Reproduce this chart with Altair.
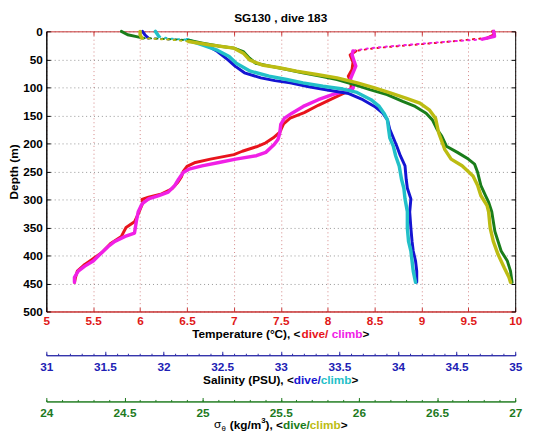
import altair as alt
import pandas as pd

# ---------------- data ----------------
# temperature, dive: surface cluster, sparse surface trail, main profile
T_dive_top_depth = [0, 6, 12]
T_dive_top = [9.76, 9.78, 9.7]
T_dive_trail_depth = [12, 14, 20, 25, 30, 35]
T_dive_trail = [9.7, 9.55, 9.2, 8.85, 8.5, 8.3]
T_dive_depth = [35, 42, 55, 68, 80, 92, 102, 110, 120, 132, 145, 155, 165, 180, 190,
                199, 206, 214, 220, 228, 234, 241, 250, 260, 270, 281, 290, 296, 300, 306, 322, 340, 350,
                366, 378, 395, 408, 416, 428, 440, 448]
T_dive = [8.3, 8.24, 8.27, 8.26, 8.22, 8.25, 8.25, 8.18, 8.05, 7.9, 7.75,
          7.6, 7.53, 7.49, 7.42, 7.34, 7.24, 7.09, 7.0, 6.75, 6.59, 6.5, 6.46, 6.44, 6.4, 6.34, 6.23, 6.09,
          6.02, 6.03, 5.99, 5.94, 5.85, 5.8, 5.69, 5.59, 5.48, 5.41, 5.33, 5.31, 5.3]

# temperature, climb
T_climb_top_depth = [0, 9, 14]
T_climb_top = [9.77, 9.78, 9.65]
T_climb_trail_depth = [14, 15, 18, 22, 27, 31, 35]
T_climb_trail = [9.65, 9.6, 9.3, 9.0, 8.64, 8.4, 8.27]
T_climb_depth = [35, 42, 52, 62, 74, 86, 94, 102, 107, 113, 122, 134, 146, 155,
                 166, 181, 193, 202, 216, 222, 228, 234, 240, 246, 252, 264, 275, 287, 293, 299, 308, 322,
                 339, 360, 366, 375, 384, 395, 410, 419, 428, 439, 448]
T_climb = [8.27, 8.26, 8.28, 8.3, 8.27, 8.24, 8.28, 8.27, 8.18, 8.05,
           7.9, 7.74, 7.62, 7.54, 7.5, 7.49, 7.47, 7.43, 7.34, 7.24, 7.02, 6.84, 6.66, 6.52, 6.46, 6.41,
           6.37, 6.3, 6.2, 6.09, 6.02, 5.98, 5.96, 5.94, 5.84, 5.73, 5.66, 5.59, 5.5, 5.41, 5.34, 5.3, 5.3]

# salinity, dive
S_dive_top_depth = [0, 6, 12]
S_dive_top = [31.82, 31.84, 31.87]
S_dive_trail_depth = [12, 14, 16]
S_dive_trail = [31.87, 32.0, 32.2]
S_dive_depth = [16, 24, 36, 51, 62, 74, 83, 88, 92, 99, 105, 111, 122, 134, 146, 158, 175,
                190, 205, 222, 240, 264, 280, 299, 322, 351, 375, 392, 410, 428, 448]
S_dive = [32.2, 32.36, 32.46, 32.55, 32.61, 32.69, 32.83, 32.95, 33.08, 33.24,
          33.41, 33.58, 33.7, 33.8, 33.87, 33.91, 33.93, 33.96, 33.99, 34.02, 34.06, 34.07, 34.08, 34.11,
          34.1, 34.11, 34.12, 34.13, 34.15, 34.16, 34.16]

# salinity, climb
S_climb_top_depth = [0, 9]
S_climb_top = [31.93, 31.96]
S_climb_trail_depth = [9, 13, 15]
S_climb_trail = [31.96, 32.05, 32.2]
S_climb_depth = [15, 24, 33, 45, 57, 71, 80, 86, 92, 98, 103, 109, 122, 134, 146, 158, 175, 190,
                 205, 222, 240, 264, 280, 299, 322, 351, 375, 392, 410, 428, 448]
S_climb = [32.2, 32.33, 32.45, 32.56, 32.62, 32.74, 32.9, 33.05, 33.19, 33.36, 33.53,
           33.65, 33.77, 33.84, 33.88, 33.91, 33.92, 33.93, 33.96, 33.98, 34.01, 34.03, 34.05, 34.06, 34.08,
           34.08, 34.09, 34.11, 34.12, 34.13, 34.15]

# sigma-theta, dive
G_dive_top_depth = [0, 6, 9, 12]
G_dive_top = [24.48, 24.52, 24.57, 24.62]
G_dive_trail_depth = [12, 14, 16]
G_dive_trail = [24.62, 24.8, 24.91]
G_dive_depth = [16, 21, 26, 30, 36, 48, 57, 62, 68, 74, 80, 86, 95, 104, 113, 125, 134,
                146, 158, 175, 187, 205, 216, 228, 237, 252, 275, 293, 305, 322, 357, 392, 410, 428, 448]
G_dive = [24.91, 25.0, 25.1, 25.2, 25.26, 25.3, 25.34, 25.43, 25.54,
          25.64, 25.75, 25.86, 25.97, 26.07, 26.18, 26.28, 26.36, 26.43, 26.47, 26.5, 26.53, 26.56, 26.63,
          26.7, 26.74, 26.76, 26.78, 26.81, 26.83, 26.85, 26.87, 26.91, 26.95, 26.97, 26.98]

# sigma-theta, climb
G_climb_top_depth = [0, 6, 12]
G_climb_top = [24.6, 24.6, 24.61]
G_climb_trail_depth = [12, 15, 18]
G_climb_trail = [24.61, 24.8, 24.91]
G_climb_depth = [18, 24, 30, 39, 51, 60, 65, 71, 77, 83, 92, 101, 110, 119, 128, 140, 155,
                 181, 211, 228, 240, 258, 275, 293, 311, 322, 351, 375, 398, 422, 439, 448]
G_climb = [24.91, 25.04, 25.2, 25.26, 25.3, 25.38, 25.49, 25.6, 25.73, 25.86,
           25.99, 26.1, 26.2, 26.3, 26.39, 26.45, 26.49, 26.51, 26.55, 26.59, 26.66, 26.73, 26.76, 26.78,
           26.82, 26.83, 26.84, 26.86, 26.89, 26.93, 26.96, 26.97]

T_domain = [5, 10]
S_domain = [31, 35]
G_domain = [24, 27]
D_domain = [0, 500]

# ---------------- styling ----------------
W, H = 477, 285
FONT = "Liberation Sans"
RED, MAG = "#e8141c", "#f020e6"
BLUE, CYAN = "#1414d2", "#22c0c8"
GREEN, OLIVE = "#1a7d1a", "#bcbc12"
RED_AX, BLUE_AX, GREEN_AX = "#c83030", "#2a2aa8", "#1f7a1f"


def ticks(a, b, step):
    n = int(round((b - a) / step))
    return [round(a + i * step, 6) for i in range(n + 1)]


def yscale():
    return alt.Scale(domain=D_domain, reverse=True, nice=False, zero=False)


def xscale(dom):
    return alt.Scale(domain=dom, nice=False, zero=False)


def plain_axis(**kw):
    base = dict(labels=False, grid=False, title=None, domainWidth=1, tickWidth=1)
    base.update(kw)
    return alt.Axis(**base)


lab = dict(labelFont=FONT, labelFontSize=12, labelFontWeight="bold", labelFlush=False, labelOverlap=False)

temp_main = alt.Axis(orient="bottom", values=ticks(5, 10, 0.5), format="~g", ticks=False, labelPadding=4,
                     labelColor="#e01818", domainColor=RED_AX, grid=True, gridColor="#c05050",
                     gridDash=[1, 3], gridOpacity=0.7, title=None, **lab)
depth_main = alt.Axis(orient="left", values=ticks(0, 500, 50), format="d", ticks=False, labelPadding=4,
                      labelColor="black", domainColor="black", grid=True, gridColor="#666666",
                      gridDash=[1, 3], gridOpacity=0.7, title="Depth (m)", titleFont=FONT, titleFontSize=12,
                      titleFontWeight="bold", titleColor="black", titleX=-38, titleY=H / 2, titleAngle=270,
                      titleAlign="center", titleBaseline="top", **lab)
temp_top_in = plain_axis(orient="bottom", offset=-H, values=ticks(5, 10, 0.5), tickSize=4,
                         tickColor=RED_AX, domainColor=RED_AX)
temp_bot_in = plain_axis(orient="top", offset=-H, values=ticks(5, 10, 0.5), tickSize=4,
                         tickColor=RED_AX, domainColor=RED_AX)
depth_left_in = plain_axis(orient="right", offset=-W, values=ticks(0, 500, 50), tickSize=4,
                           tickColor="black", domainColor="black")
depth_right_in = plain_axis(orient="left", offset=-W, values=ticks(0, 500, 50), tickSize=4,
                            tickColor="black", domainColor="black")

S_OFF = 329.5
G_OFF = 376.5
sal_major = alt.Axis(orient="top", offset=-S_OFF, values=ticks(31, 35, 0.5), format="~g", tickSize=4,
                     tickColor=BLUE_AX, domainColor=BLUE_AX, labelColor="#2020b4", labelBaseline="top",
                     labelPadding=-10.5, grid=False, title=None, **lab)
sal_minor = plain_axis(orient="top", offset=-S_OFF, values=ticks(31, 35, 0.1), tickSize=2,
                       tickColor=BLUE_AX, domainColor=BLUE_AX)
sig_major = alt.Axis(orient="top", offset=-G_OFF, values=ticks(24, 27, 0.5), format="~g", tickSize=4,
                     tickColor=GREEN_AX, domainColor=GREEN_AX, labelColor="#1e7a1e", labelBaseline="top",
                     labelPadding=-10.5, grid=False, title=None, **lab)
sig_minor = plain_axis(orient="top", offset=-G_OFF, values=ticks(24, 27, 0.1), tickSize=2,
                       tickColor=GREEN_AX, domainColor=GREEN_AX)


def series(depth, vals, field, dom, color, width, xaxis=None, yaxis=None, opacity=1.0, dash=None):
    df = pd.DataFrame({"depth": depth, field: vals})
    mk = dict(color=color, strokeWidth=width, strokeCap="round", strokeJoin="round", opacity=opacity)
    if dash:
        mk["strokeDash"] = dash
    return alt.Chart(df).mark_line(**mk).encode(
        x=alt.X(f"{field}:Q", scale=xscale(dom), axis=xaxis),
        y=alt.Y("depth:Q", scale=yscale(), axis=yaxis),
        order=alt.Order("depth:Q"),
    )


def profile(top_d, top_v, trail_d, trail_v, d, v, field, dom, color, width, xaxis=None, yaxis=None):
    return [
        series(d, v, field, dom, color, width, xaxis, yaxis),
        series(top_d, top_v, field, dom, color, width),
        series(trail_d, trail_v, field, dom, color, 2, dash=[1.5, 5]),
    ]


# Arial/Liberation Sans advance widths (per em)
BW = {'T': .611, 'e': .556, 'm': .889, 'p': .611, 'r': .389, 'a': .556, 't': .333, 'u': .611, ' ': .278,
      '(': .333, '°': .400, 'C': .722, ')': .333, ',': .278, '<': .584, '>': .584, 'd': .611, 'i': .278,
      'v': .556, '/': .278, 'c': .556, 'l': .278, 'b': .611, 'S': .667, 'n': .611, 'y': .556, 'P': .667,
      'U': .722, 'k': .556, 'g': .611, '3': .556, 'σ': .64, 'θ': .62, 'G': .778, '1': .556, '0': .556,
      '8': .556}


def twidth(t, size):
    return sum(BW.get(ch, 0.56) for ch in t) * size


def text_line(segments, cx, cy):
    total = sum(twidth(s[0], s[2]) for s in segments)
    x = cx - total / 2
    out = []
    for t, color, size, weight, dy in segments:
        lead = len(t) - len(t.lstrip(" "))
        xs = x + lead * BW[" "] * size
        out.append(
            alt.Chart(pd.DataFrame({"t": [t.strip()]})).mark_text(
                align="left", baseline="middle", font=FONT, fontSize=size, fontWeight=weight, color=color
            ).encode(text="t:N", x=alt.value(xs), y=alt.value(cy + dy))
        )
        x += twidth(t, size)
    return out


texts = []
texts += text_line([("SG130 , dive 183", "black", 12, "bold", 0)], W / 2, -14)
texts += text_line([("Temperature (°C), <", "black", 12, "bold", 0), ("dive/", RED, 12, "bold", 0),
                    (" climb", MAG, 12, "bold", 0), (">", "black", 12, "bold", 0)], W / 2, 308)
texts += text_line([("Salinity (PSU), <", "black", 12, "bold", 0), ("dive/", BLUE, 12, "bold", 0),
                    ("climb", CYAN, 12, "bold", 0), (">", "black", 12, "bold", 0)], W / 2, 355)
texts += text_line([("σ", "black", 12, "normal", -1), ("θ", "black", 8, "normal", 4),
                    (" (kg/m", "black", 12, "bold", 0), ("3", "black", 8, "bold", -4),
                    ("), <", "black", 12, "bold", 0), ("dive/", GREEN, 12, "bold", 0),
                    ("climb", OLIVE, 12, "bold", 0), (">", "black", 12, "bold", 0)], W / 2, 400.5)

layers = [series(T_dive_depth, T_dive, "temp", T_domain, RED, 0, temp_bot_in, depth_right_in, opacity=0)]
layers += profile(T_dive_top_depth, T_dive_top, T_dive_trail_depth, T_dive_trail, T_dive_depth, T_dive,
                  "temp", T_domain, RED, 3, temp_main, depth_main)
layers += profile(T_climb_top_depth, T_climb_top, T_climb_trail_depth, T_climb_trail, T_climb_depth, T_climb,
                  "temp", T_domain, MAG, 3.5, temp_top_in, depth_left_in)
layers += profile(S_dive_top_depth, S_dive_top, S_dive_trail_depth, S_dive_trail, S_dive_depth, S_dive,
                  "sal", S_domain, BLUE, 3, sal_major)
layers += profile(S_climb_top_depth, S_climb_top, S_climb_trail_depth, S_climb_trail, S_climb_depth, S_climb,
                  "sal", S_domain, CYAN, 3.5, sal_minor)
layers += profile(G_dive_top_depth, G_dive_top, G_dive_trail_depth, G_dive_trail, G_dive_depth, G_dive,
                  "sig", G_domain, GREEN, 3, sig_major)
layers += profile(G_climb_top_depth, G_climb_top, G_climb_trail_depth, G_climb_trail, G_climb_depth, G_climb,
                  "sig", G_domain, OLIVE, 3.5, sig_minor)
layers += texts

chart = alt.layer(*layers).resolve_scale(x="independent", y="independent").properties(
    width=W, height=H,
    autosize=alt.AutoSizeParams(type="none"),
    padding={"left": 39, "top": 20, "right": 12, "bottom": 128},
    background="white",
).configure_view(strokeWidth=0)

chart.save("out.html", embed_options={"renderer": "svg", "actions": False})
